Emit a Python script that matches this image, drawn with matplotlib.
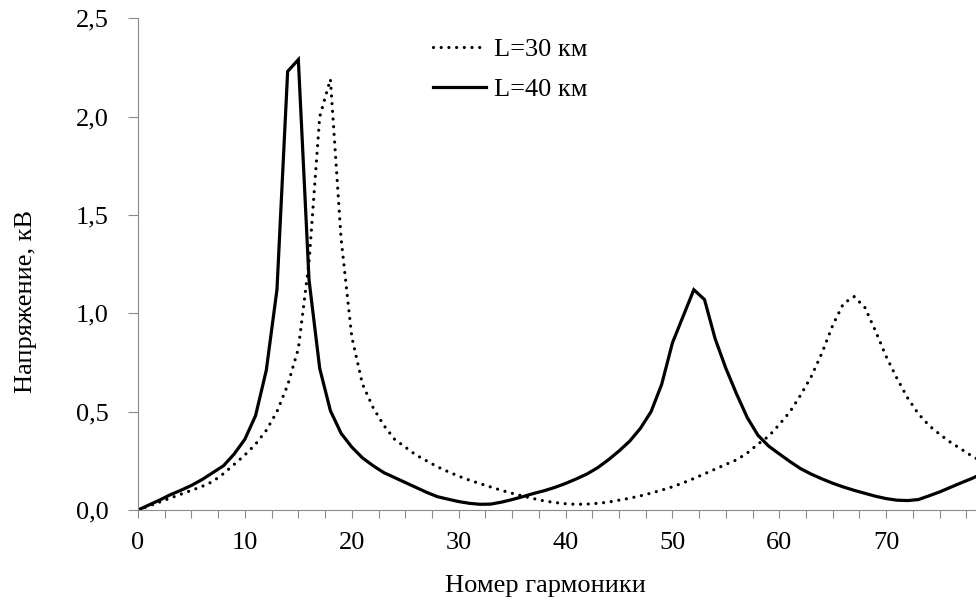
import numpy as np
import matplotlib
matplotlib.use('Agg')
import matplotlib.pyplot as plt
from matplotlib.ticker import MultipleLocator, FuncFormatter

plt.rcParams['font.family'] = ['Liberation Serif', 'DejaVu Serif']

# Номер гармоники 0..79
harmonics = np.arange(0, 80)

# Напряжение, кВ: L = 30 км
u_30km = [
    0.0, 0.02, 0.04, 0.06, 0.08, 0.10, 0.12, 0.145, 0.185, 0.232,
    0.28, 0.335, 0.405, 0.50, 0.635, 0.82, 1.26, 2.00, 2.19, 1.38,
    0.88, 0.64, 0.52, 0.43, 0.36, 0.32, 0.28, 0.25, 0.22, 0.195,
    0.172, 0.152, 0.134, 0.117, 0.10, 0.085, 0.071, 0.058, 0.046, 0.038,
    0.032, 0.029, 0.030, 0.034, 0.040, 0.050, 0.060, 0.072, 0.086, 0.101,
    0.118, 0.138, 0.160, 0.184, 0.208, 0.232, 0.255, 0.29, 0.335, 0.375,
    0.435, 0.50, 0.585, 0.68, 0.80, 0.94, 1.05, 1.085, 1.03, 0.91,
    0.78, 0.67, 0.57, 0.49, 0.43, 0.385, 0.345, 0.31, 0.275, 0.245,
]

# Напряжение, кВ: L = 40 км
u_40km = [
    0.0, 0.025, 0.05, 0.077, 0.10, 0.125, 0.155, 0.19, 0.225, 0.285,
    0.36, 0.48, 0.71, 1.12, 2.23, 2.29, 1.17, 0.72, 0.505, 0.39,
    0.32, 0.265, 0.225, 0.19, 0.165, 0.14, 0.115, 0.09, 0.068, 0.055,
    0.043, 0.034, 0.029, 0.030, 0.040, 0.053, 0.068, 0.084, 0.098, 0.115,
    0.135, 0.158, 0.183, 0.215, 0.255, 0.30, 0.35, 0.415, 0.50, 0.64,
    0.85, 0.985, 1.12, 1.07, 0.87, 0.72, 0.59, 0.47, 0.38, 0.325,
    0.285, 0.246, 0.21, 0.182, 0.158, 0.136, 0.117, 0.10, 0.085, 0.07,
    0.058, 0.05, 0.048, 0.053, 0.072, 0.092, 0.115, 0.138, 0.16, 0.185,
]

series_labels = ['L=30 км', 'L=40 км']
y_ticks = [0.0, 0.5, 1.0, 1.5, 2.0, 2.5]

FS = 19
GREY = '#8a8a8a'

fig = plt.figure(figsize=(9.76, 6.06), dpi=100)
ax = fig.add_axes([0.1414, 0.1584, 0.8586, 0.8114])

ax.plot(harmonics, u_30km, color='black', linewidth=2.3,
        linestyle=(0, (0.01, 2.4)), dash_capstyle='round',
        label=series_labels[0])
ax.plot(harmonics, u_40km, color='black', linewidth=2.3,
        solid_joinstyle='miter', label=series_labels[1])

ax.set_xlim(0, 78.4)
ax.set_ylim(0, 2.5)

# x: подписи через 10, засечки через 2,5
ax.xaxis.set_major_locator(MultipleLocator(10))
ax.xaxis.set_minor_locator(MultipleLocator(2.5))
ax.set_yticks(y_ticks)
ax.yaxis.set_major_formatter(FuncFormatter(lambda v, p: f'{v:.1f}'.replace('.', ',')))

for side in ('top', 'right'):
    ax.spines[side].set_visible(False)
for side in ('left', 'bottom'):
    ax.spines[side].set_color(GREY)
    ax.spines[side].set_linewidth(0.8)

ax.tick_params(axis='x', which='both', direction='out', length=6,
               width=0.8, color=GREY, labelsize=FS, pad=10)
ax.tick_params(axis='y', which='major', direction='out', length=7,
               width=0.8, color=GREY, labelsize=FS, pad=14)

ax.set_xlabel('Номер гармоники', fontsize=FS)
ax.xaxis.set_label_coords(0.486, -0.133)
ax.set_ylabel('Напряжение, кВ', fontsize=FS)
ax.yaxis.set_label_coords(-0.12, 0.425)

ax.legend(loc='upper left', bbox_to_anchor=(433 / 976, 1 - 38 / 606),
          bbox_transform=fig.transFigure, frameon=False, fontsize=FS,
          handlelength=2.0, handletextpad=0.3, labelspacing=0.62,
          borderpad=0, borderaxespad=0)

fig.savefig('out.png', dpi=100, facecolor='white')
